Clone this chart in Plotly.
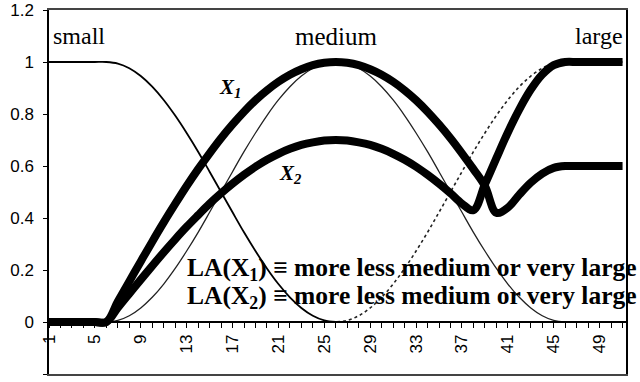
import plotly.graph_objects as go

x = list(range(1, 52))

small = [1, 1, 1, 1, 1, 1, 0.994, 0.976, 0.946, 0.905,
         0.854, 0.794, 0.727, 0.655, 0.578, 0.5, 0.422, 0.345, 0.273, 0.206,
         0.146, 0.095, 0.054, 0.024, 0.006, 0, 0, 0, 0, 0,
         0, 0, 0, 0, 0, 0, 0, 0, 0, 0,
         0, 0, 0, 0, 0, 0, 0, 0, 0, 0,
         0]
medium = [0, 0, 0, 0, 0, 0, 0.006, 0.024, 0.054, 0.095,
          0.146, 0.206, 0.273, 0.345, 0.422, 0.5, 0.578, 0.655, 0.727, 0.794,
          0.854, 0.905, 0.946, 0.976, 0.994, 1, 0.994, 0.976, 0.946, 0.905,
          0.854, 0.794, 0.727, 0.655, 0.578, 0.5, 0.422, 0.345, 0.273, 0.206,
          0.146, 0.095, 0.054, 0.024, 0.006, 0, 0, 0, 0, 0,
          0]
large = [0, 0, 0, 0, 0, 0, 0, 0, 0, 0,
         0, 0, 0, 0, 0, 0, 0, 0, 0, 0,
         0, 0, 0, 0, 0, 0, 0.006, 0.024, 0.054, 0.095,
         0.146, 0.206, 0.273, 0.345, 0.422, 0.5, 0.578, 0.655, 0.727, 0.794,
         0.854, 0.905, 0.946, 0.976, 0.994, 1, 1, 1, 1, 1,
         1]
la_x1 = [0, 0, 0, 0, 0, 0, 0.079, 0.156, 0.233, 0.309,
         0.383, 0.454, 0.523, 0.588, 0.649, 0.707, 0.760, 0.809, 0.853, 0.891,
         0.924, 0.951, 0.972, 0.988, 0.997, 1, 0.997, 0.988, 0.972, 0.951,
         0.924, 0.891, 0.853, 0.809, 0.760, 0.707, 0.649, 0.588, 0.523, 0.42,
         0.44, 0.49, 0.536, 0.571, 0.593, 0.6, 0.6, 0.6, 0.6, 0.6,
         0.6]
la_x2 = [0, 0, 0, 0, 0, 0, 0.055, 0.109, 0.163, 0.216,
         0.268, 0.318, 0.366, 0.411, 0.455, 0.495, 0.532, 0.566, 0.597, 0.624,
         0.647, 0.666, 0.681, 0.691, 0.698, 0.7, 0.698, 0.691, 0.681, 0.666,
         0.647, 0.624, 0.597, 0.566, 0.532, 0.495, 0.455, 0.43, 0.529, 0.630,
         0.729, 0.818, 0.894, 0.952, 0.988, 1, 1, 1, 1, 1,
         1]

x_ticks = [1, 5, 9, 13, 17, 21, 25, 29, 33, 37, 41, 45, 49]
y_ticks = [-0.2, 0, 0.2, 0.4, 0.6, 0.8, 1, 1.2]
y_labels = ["-0.2", "0", "0.2", "0.4", "0.6", "0.8", "1", "1.2"]

serif = "Liberation Serif, Times New Roman, serif"
sans = "Liberation Sans, Arial, sans-serif"

fig = go.Figure()
fig.add_trace(go.Scatter(x=x, y=small, mode="lines",
                         line=dict(color="black", width=1.8, shape="spline")))
fig.add_trace(go.Scatter(x=x, y=medium, mode="lines",
                         line=dict(color="#222", width=1.3, shape="spline")))
fig.add_trace(go.Scatter(x=x, y=large, mode="lines",
                         line=dict(color="#222", width=1.6, dash="dot", shape="spline")))
fig.add_trace(go.Scatter(x=x, y=la_x1, mode="lines",
                         line=dict(color="black", width=8, shape="spline")))
fig.add_trace(go.Scatter(x=x, y=la_x2, mode="lines",
                         line=dict(color="black", width=8, shape="spline")))
# invisible trace on a second x axis, only used to draw the top/bottom frame
fig.add_trace(go.Scatter(x=[x[0]], y=[0], xaxis="x2", mode="markers",
                         marker=dict(opacity=0), hoverinfo="skip"))

fig.update_layout(
    width=640, height=382,
    margin=dict(l=49, r=14, t=10, b=8),
    paper_bgcolor="white", plot_bgcolor="white",
    showlegend=False,
    xaxis=dict(range=[1, 51.3], tickvals=x_ticks, ticktext=[str(v) for v in x_ticks],
               tickangle=-90, ticks="outside", ticklen=5, tickcolor="black",
               minor=dict(dtick=1, tick0=1, ticks="outside", ticklen=5, tickcolor="black"),
               showline=True, linecolor="black", linewidth=1.5,
               anchor="free", position=0.2 / 1.4, automargin=False,
               showgrid=False, zeroline=False,
               tickfont=dict(family=sans, size=17, color="black")),
    xaxis2=dict(range=[1, 51.3], overlaying="x", anchor="y", side="bottom",
                showline=True, mirror=True, linecolor="#444", linewidth=1.5,
                showticklabels=False, ticks="", showgrid=False, zeroline=False,
                automargin=False),
    yaxis=dict(range=[-0.2, 1.2], tickvals=y_ticks, ticktext=y_labels,
               ticks="outside", ticklen=4, tickcolor="black", ticklabelstandoff=6,
               showline=True, mirror=True, linecolor="black", linewidth=1.5,
               automargin=False, showgrid=False, zeroline=False,
               tickfont=dict(family=sans, size=17, color="black")),
)

fig.add_annotation(x=1.2, y=1.1, text="small", showarrow=False, xanchor="left",
                   font=dict(family=serif, size=24, color="black"))
fig.add_annotation(x=26, y=1.1, text="medium", showarrow=False, xanchor="center",
                   font=dict(family=serif, size=25, color="black"))
fig.add_annotation(x=51.2, y=1.1, text="large", showarrow=False, xanchor="right",
                   font=dict(family=serif, size=24, color="black"))
fig.add_annotation(x=16.8, y=0.9, text="<b><i>X</i></b><sub><b><i>1</i></b></sub>",
                   showarrow=False, font=dict(family=serif, size=21, color="black"))
fig.add_annotation(x=22.0, y=0.57, text="<b><i>X</i></b><sub><b><i>2</i></b></sub>",
                   showarrow=False, font=dict(family=serif, size=21, color="black"))
fig.add_annotation(x=12.86, y=0.204, xanchor="left",
                   text="<b>LA(X<sub>1</sub>) \u2261 more less medium or very large</b>",
                   showarrow=False, font=dict(family=serif, size=25.5, color="black"))
fig.add_annotation(x=12.86, y=0.096, xanchor="left",
                   text="<b>LA(X<sub>2</sub>) \u2261 more less medium or very large</b>",
                   showarrow=False, font=dict(family=serif, size=25.5, color="black"))

fig.write_html("out.html", config={"displayModeBar": False},
               post_script="document.body.style.margin='0px';")
